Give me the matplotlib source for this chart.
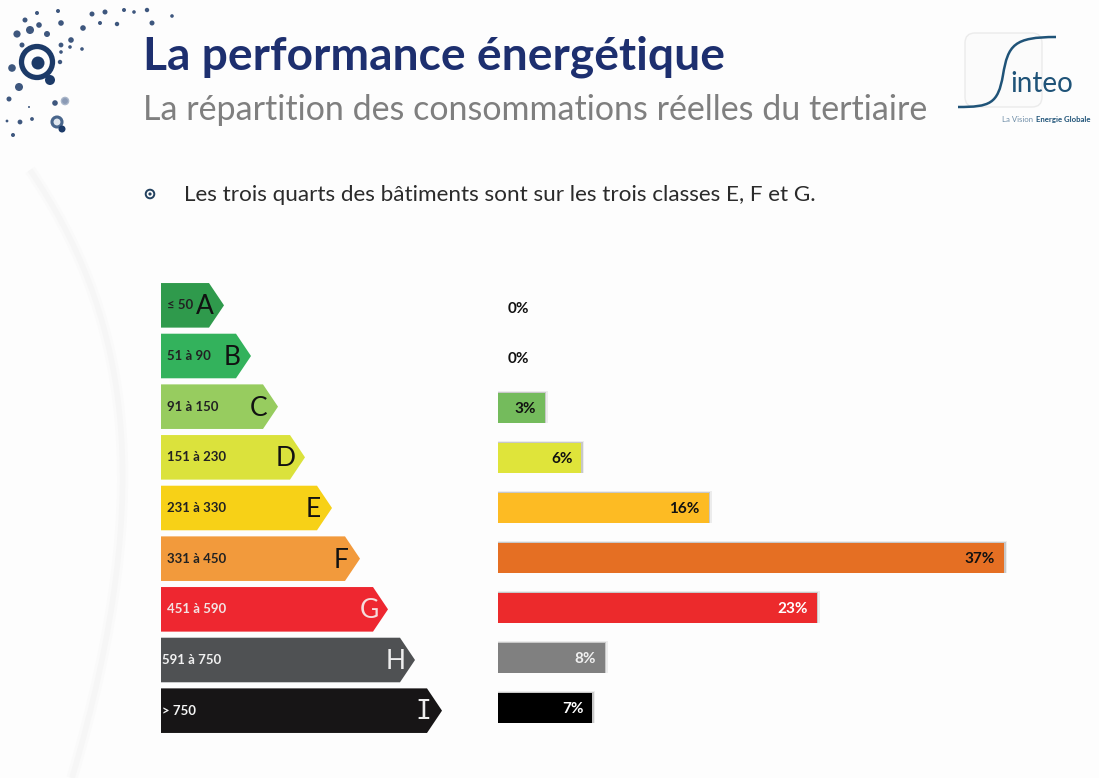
import matplotlib
matplotlib.use("Agg")
import matplotlib.pyplot as plt
from matplotlib.patches import Polygon, Circle, FancyBboxPatch, PathPatch
from matplotlib.path import Path

classes = ["A", "B", "C", "D", "E", "F", "G", "H", "I"]
ranges = ["≤ 50", "51 à 90", "91 à 150", "151 à 230", "231 à 330", "331 à 450", "451 à 590", "591 à 750", "> 750"]
shares = [0, 0, 3.4, 6.1, 15.4, 37.0, 23.3, 7.8, 6.9]
share_labels = ["0%", "0%", "3%", "6%", "16%", "37%", "23%", "8%", "7%"]
arrow_lengths = [63, 90, 117, 144, 171, 199, 227, 254, 281]
arrow_colors = ["#2f9a4c", "#33b25c", "#97cc5f", "#dbe23c", "#f7d117", "#f29a3c", "#ee2730", "#4f5153", "#171516"]
bar_colors = ["#2f9a4c", "#33b25c", "#74bb5c", "#dfe43a", "#fdbb23", "#e56f23", "#ec2a2c", "#808080", "#000000"]
range_colors = ["#222222"] * 6 + ["#f3e3e3", "#f0f0f0", "#f5f5f5"]
letter_colors = ["#111111"] * 6 + ["#f6dcdc", "#eeeeee", "#eeeeee"]
bar_label_colors = ["#111111"] * 6 + ["#ffffff", "#f0f0f0", "#ffffff"]

title = "La performance énergétique"
subtitle = "La répartition des consommations réelles du tertiaire"
bullet = "Les trois quarts des bâtiments sont sur les trois classes E, F et G."

W, H = 1099, 778
fig = plt.figure(figsize=(W / 100, H / 100), dpi=100, facecolor="#fdfdfd")

bg = fig.add_axes([0, 0, 1, 1])
bg.set_xlim(0, W); bg.set_ylim(H, 0); bg.axis("off")

# pale sweeping curve at left
for lw, c in ((8, "#fafafa"), (4, "#f6f6f6")):
    bg.add_patch(PathPatch(Path([(30, 170), (125, 310), (160, 480), (72, 778)],
                                [Path.MOVETO, Path.CURVE4, Path.CURVE4, Path.CURVE4]),
                           fill=False, ec=c, lw=lw, capstyle="butt"))

# dots decoration
navy = "#1c3a68"
dots = [(37, 13, 2), (25, 20, 2.5), (39, 25, 2.8), (58, 11, 2), (17, 34, 3.6), (30, 30, 4), (47, 34, 3), (61, 23, 2.8),
        (83, 28, 2.8), (92, 14, 2.5), (105, 12, 2.5), (100, 23, 2), (117, 24, 2.2), (124, 10, 2), (134, 12, 1.8),
        (147, 10, 2.2), (152, 23, 2.5), (172, 16, 1.8), (71, 40, 2.8), (61, 45, 2.4), (61, 52, 1.8), (70, 47, 1.8),
        (60, 62, 2.2), (82, 49, 1.8), (22, 45, 2.5), (12, 68, 3.8), (19, 87, 4), (9, 99, 2.5), (55, 103, 2.8),
        (20, 122, 2.4), (32, 119, 1.9), (13, 135, 2), (7, 121, 1.4), (29, 107, 1)]
for x, y, r in dots:
    bg.add_patch(Circle((x, y), r, fc=navy, ec="none", alpha=0.85))
bg.add_patch(Circle((37, 62), 15.5, fc="none", ec=navy, lw=3.8))
bg.add_patch(Circle((38, 63), 6.5, fc=navy, ec="none"))
bg.add_patch(Circle((50, 80), 5, fc=navy, ec="none"))
bg.add_patch(Circle((65, 101), 3.6, fc="#8a9ab5", ec="#a9b6c9", lw=1))
bg.add_patch(Circle((57, 122), 5, fc="#dfe6ee", ec="#49668c", lw=2.2))
bg.add_patch(Circle((62, 129), 3.5, fc=navy, ec="none"))

# headings
bg.text(143, 57, title, family="Lato", weight="bold", fontsize=33.2, color="#1d2f6f", va="center", ha="left")
bg.text(143, 110, subtitle, family="Lato", fontsize=24.5, color="#7f7f7f", va="center", ha="left")
bg.add_patch(Circle((150, 194), 4.3, fc="none", ec="#23415f", lw=1.4))
bg.add_patch(Circle((150, 194), 1.6, fc="#23415f", ec="none"))
bg.text(184, 195, bullet, family="Lato", fontsize=16.2, color="#2b2b2b", va="center", ha="left")

# logo
bg.add_patch(FancyBboxPatch((965, 33), 77, 74, boxstyle="round,pad=0,rounding_size=10", fc="#fbfbfb", ec="#ebebeb", lw=1))
bg.add_patch(PathPatch(Path([(958, 107), (990, 107), (998, 104), (1003, 75), (1008, 45), (1014, 37), (1056, 37)],
                            [Path.MOVETO, Path.CURVE4, Path.CURVE4, Path.CURVE4, Path.CURVE4, Path.CURVE4, Path.CURVE4]),
                       fill=False, ec="#1f5378", lw=1.8))
bg.text(1010, 84, "inteo", family="Lato", fontsize=20, color="#1f5378", va="center", ha="left")
bg.text(1002, 119, "La Vision", fontsize=5.6, family="Lato", color="#6f8ea8", va="center", ha="left")
bg.text(1036, 119, "Energie Globale", fontsize=5.6, family="Lato", weight="bold", color="#1f5378", va="center", ha="left", clip_on=True)

# energy class arrows
x0, y0, x1, y1 = 161, 280, 461, 736
ax_a = fig.add_axes([x0 / W, 1 - y1 / H, (x1 - x0) / W, (y1 - y0) / H])
ax_a.set_xlim(0, x1 - x0)
ax_a.set_ylim(len(classes) - 0.5, -0.5)
ax_a.axis("off")
half = 0.44
head = 15
for i, (n, c) in enumerate(zip(arrow_lengths, arrow_colors)):
    ax_a.add_patch(Polygon([(0, i - half), (n - head, i - half), (n, i), (n - head, i + half), (0, i + half)],
                           closed=True, fc=c, ec="none"))
    ax_a.text(6 if i < 7 else 1, i, ranges[i], family="Lato", weight="bold",
              fontsize=9.5, color=range_colors[i], va="center", ha="left")
    ax_a.text(n - 19, i + 0.03, classes[i], family="DejaVu Sans Mono" if classes[i] == "I" else "Lato",
              fontsize=19, color=letter_colors[i], va="center", ha="center")

# share bars
bx0, by0, bx1, by1 = 498, 283, 1030, 733
ax = fig.add_axes([bx0 / W, 1 - by1 / H, (bx1 - bx0) / W, (by1 - by0) / H])
ax.patch.set_alpha(0)
ax.set_xlim(0, (bx1 - bx0) / 13.68)
ax.set_ylim(len(classes) - 0.5, -0.5)
ax.axis("off")
ypos = list(range(len(classes)))
for dx, dh, col in ((0.22, 0.045, "#ececec"), (0.12, 0.025, "#c8c8c8")):
    ax.barh([y - dh / 2 for y in ypos], [s + dx if s else 0 for s in shares], height=0.6 + dh, color=col, zorder=1)
ax.barh(ypos, shares, height=0.6, color=bar_colors, zorder=2)
for y, s, lab, c in zip(ypos, shares, share_labels, bar_label_colors):
    if s:
        ax.text(s - 0.65, y + 0.02, lab, family="Lato", weight="bold", fontsize=11, color=c, va="center", ha="right", zorder=3)
    else:
        ax.text(0.72, y + 0.02, lab, family="Lato", weight="bold", fontsize=11, color=c, va="center", ha="left", zorder=3)

fig.savefig("out.png", dpi=100, facecolor=fig.get_facecolor())
